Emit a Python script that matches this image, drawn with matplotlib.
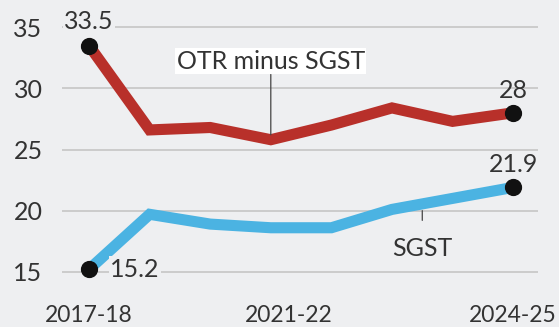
import matplotlib.pyplot as plt

years = ['2017-18', '2018-19', '2019-20', '2020-21', '2021-22', '2022-23', '2023-24', '2024-25']
otr_minus_sgst = [33.5, 26.6, 26.8, 25.8, 27.0, 28.4, 27.3, 28.0]
sgst = [15.2, 19.7, 18.9, 18.6, 18.6, 20.1, 21.0, 21.9]
tick_labels = ['2017-18', '2021-22', '2024-25']

bg = '#eeeff1'
red = '#b8302a'
blue = '#4bb3e2'
txt = '#333333'
fs = 18

plt.rcParams['font.family'] = ['Lato', 'DejaVu Sans']

fig = plt.figure(figsize=(5.59, 3.27), dpi=100, facecolor=bg)
ax = fig.add_axes([62 / 559, 1 - 284 / 327, 476 / 559, 269 / 327])
ax.set_facecolor(bg)

x = list(range(len(years)))
ax.plot(x, otr_minus_sgst, color=red, lw=8, solid_joinstyle='miter', zorder=3)
ax.plot(x, sgst, color=blue, lw=8, solid_joinstyle='miter', zorder=3)

# end points
ax.scatter([0, 7], [otr_minus_sgst[0], otr_minus_sgst[-1]], s=130, color='#111111', zorder=4)
ax.scatter([0, 7], [sgst[0], sgst[-1]], s=130, color='#111111', zorder=4)

ax.set_xlim(-0.446, 7.41)
ax.set_ylim(14, 36)
ax.set_yticks([15, 20, 25, 30, 35])
ax.grid(axis='y', color='#c9c9c9', lw=1.3)
ax.set_axisbelow(True)
for s in ax.spines.values():
    s.set_visible(False)
ax.tick_params(length=0, labelsize=fs, colors=txt)
ax.tick_params(axis='y', pad=14)
ax.tick_params(axis='x', pad=15, labelsize=16.5)

ax.set_xticks([0, 3.3, 7])
ax.set_xticklabels(tick_labels)

# value labels
ax.text(0, otr_minus_sgst[0] + 1.0, f'{otr_minus_sgst[0]}', ha='center', va='bottom',
        fontsize=fs, color=txt, zorder=5,
        bbox=dict(facecolor=bg, edgecolor='none', pad=1))
ax.text(7, otr_minus_sgst[-1] + 0.9, f'{otr_minus_sgst[-1]:g}', ha='center', va='bottom',
        fontsize=fs, color=txt, zorder=5)
ax.text(0.35, sgst[0], f'{sgst[0]}', ha='left', va='center',
        fontsize=fs, color=txt, zorder=5,
        bbox=dict(facecolor=bg, edgecolor='none', pad=1))
ax.text(7, sgst[-1] + 0.9, f'{sgst[-1]}', ha='center', va='bottom',
        fontsize=fs, color=txt, zorder=5)

# series labels with leader lines
ax.annotate('OTR minus SGST', xy=(3, otr_minus_sgst[3] + 0.4), xytext=(3, 32.2),
            ha='center', va='center', fontsize=fs, color=txt, zorder=5,
            bbox=dict(facecolor='white', edgecolor='none', pad=1),
            arrowprops=dict(arrowstyle='-', color='#444444', lw=0.9, shrinkA=0, shrinkB=0))
ax.annotate('SGST', xy=(5.5, 20.0), xytext=(5.5, 16.9),
            ha='center', va='center', fontsize=fs, color=txt, zorder=5,
            arrowprops=dict(arrowstyle='-', color='#444444', lw=0.9, shrinkA=10, shrinkB=0))

fig.savefig('out.png', dpi=100, facecolor=bg)
